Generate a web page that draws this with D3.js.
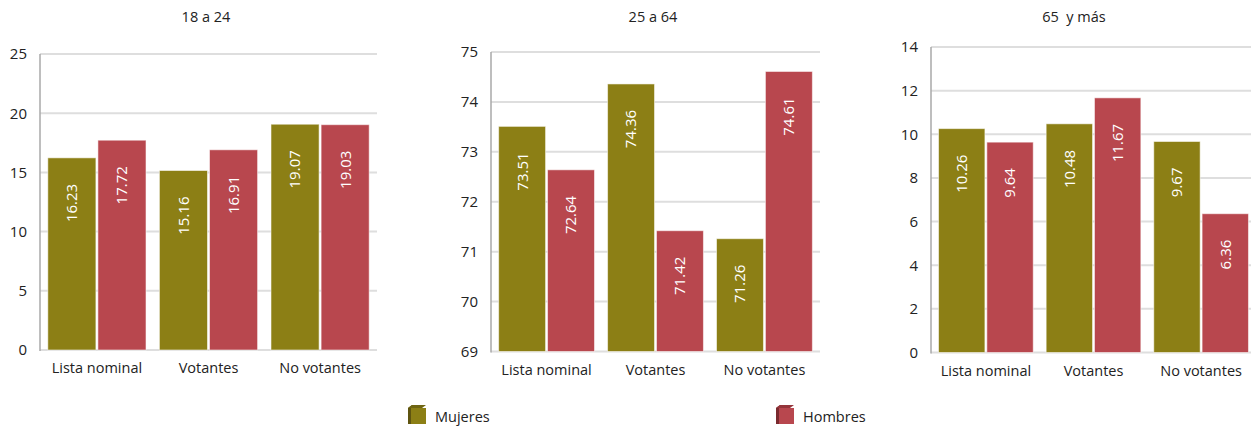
<!DOCTYPE html>
<html><head><meta charset="utf-8">
<script src="https://cdn.jsdelivr.net/npm/d3@7"></script>
<style>
html,body{margin:0;padding:0;background:#fff;}
svg{display:block;font-family:"Open Sans","Noto Sans",sans-serif;}
</style></head>
<body>
<svg id="c" width="1251" height="427"></svg>
<script>
const categories = ["Lista nominal", "Votantes", "No votantes"];
const seriesNames = ["Mujeres", "Hombres"];
const panelTitles = ["18 a 24", "25 a 64", "65  y más"];
const mujeres18 = [16.23, 15.16, 19.07];
const hombres18 = [17.72, 16.91, 19.03];
const mujeres25 = [73.51, 74.36, 71.26];
const hombres25 = [72.64, 71.42, 74.61];
const mujeres65 = [10.26, 10.48, 9.67];
const hombres65 = [9.64, 11.67, 6.36];
const ticks18 = [0, 5, 10, 15, 20, 25];
const ticks25 = [69, 70, 71, 72, 73, 74, 75];
const ticks65 = [0, 2, 4, 6, 8, 10, 12, 14];

const colors = ["#8C7F15", "#B8474E"];
const dark = ["#5E5410", "#7A2A2F"];
const topc = ["#6F6512", "#94353B"];

const panels = [
  {title: panelTitles[0], m: mujeres18, h: hombres18, ticks: ticks18, x0: 40, x1: 377, yTop: 54, yBot: 350, tx: 206},
  {title: panelTitles[1], m: mujeres25, h: hombres25, ticks: ticks25, x0: 491, x1: 820, yTop: 52, yBot: 351.5, tx: 653},
  {title: panelTitles[2], m: mujeres65, h: hombres65, ticks: ticks65, x0: 931, x1: 1256, yTop: 47, yBot: 352.5, tx: 1074}
];

const svg = d3.select("#c");

panels.forEach(p => {
  const g = svg.append("g");
  const y = d3.scaleLinear().domain([p.ticks[0], p.ticks[p.ticks.length-1]]).range([p.yBot, p.yTop]);
  const x = d3.scaleBand().domain(categories).range([p.x0, p.x1]).paddingInner(0.12).paddingOuter(0.07);
  const xs = d3.scaleBand().domain(seriesNames).range([0, x.bandwidth()]).paddingInner(0.04);

  // gridlines
  g.selectAll("line.grid").data(p.ticks).join("line")
    .attr("x1", p.x0).attr("x2", p.x1)
    .attr("y1", d => y(d)).attr("y2", d => y(d))
    .attr("stroke", "#DEDEDE").attr("stroke-width", 2);
  // left axis line
  g.append("line").attr("x1", p.x0).attr("x2", p.x0).attr("y1", p.yTop).attr("y2", p.yBot + 1)
    .attr("stroke", "#A8A8A8").attr("stroke-width", 1.5);

  // tick labels
  g.selectAll("text.tick").data(p.ticks).join("text")
    .attr("x", p.x0 - 13).attr("y", d => y(d)).attr("dy", "0.36em")
    .attr("text-anchor", "end").attr("font-size", 15).attr("fill", "#222")
    .text(d => d3.format("d")(d));

  // bars
  const rows = categories.map((c, i) => ({c, vals: [p.m[i], p.h[i]]}));
  rows.forEach(r => {
    r.vals.forEach((v, si) => {
      const bx = x(r.c) + xs(seriesNames[si]);
      const bw = xs.bandwidth();
      g.append("rect")
        .attr("x", bx).attr("y", y(v)).attr("width", bw).attr("height", p.yBot - y(v))
        .attr("fill", colors[si]).attr("stroke", "rgba(255,255,255,0.55)").attr("stroke-width", 1);
      const cx = bx + bw / 2, ty = y(v) + 26;
      g.append("text")
        .attr("transform", `translate(${cx},${ty}) rotate(-90)`)
        .attr("text-anchor", "end").attr("dy", "0.36em")
        .attr("font-size", 15).attr("fill", "#fff")
        .text(v.toFixed(2));
    });
  });

  // category labels
  g.selectAll("text.cat").data(categories).join("text")
    .attr("x", d => x(d) + x.bandwidth() / 2).attr("y", p.yBot + 23)
    .attr("text-anchor", "middle").attr("font-size", 14.5).attr("fill", "#222")
    .text(d => d);

  // title
  g.append("text").attr("x", p.tx).attr("y", 22).attr("text-anchor", "middle")
    .attr("font-size", 14.5).attr("fill", "#222").style("white-space", "pre")
    .attr("xml:space", "preserve").text(p.title);
});

// legend
const legendX = [408, 776];
seriesNames.forEach((s, i) => {
  const lg = svg.append("g").attr("transform", `translate(${legendX[i]},405)`);
  lg.append("polygon").attr("points", "0,3 4,0 4,16 0,19").attr("fill", dark[i]);
  lg.append("polygon").attr("points", "0,3 4,0 18,0 14,3").attr("fill", topc[i]);
  lg.append("rect").attr("x", 3).attr("y", 3).attr("width", 15).attr("height", 16).attr("fill", colors[i]);
  lg.append("polygon").attr("points", "0,3 3,3 3,19 0,19").attr("fill", dark[i]);
  lg.append("text").attr("x", 27).attr("y", 17).attr("font-size", 14.5).attr("fill", "#222").text(s);
});
</script>
</body></html>
